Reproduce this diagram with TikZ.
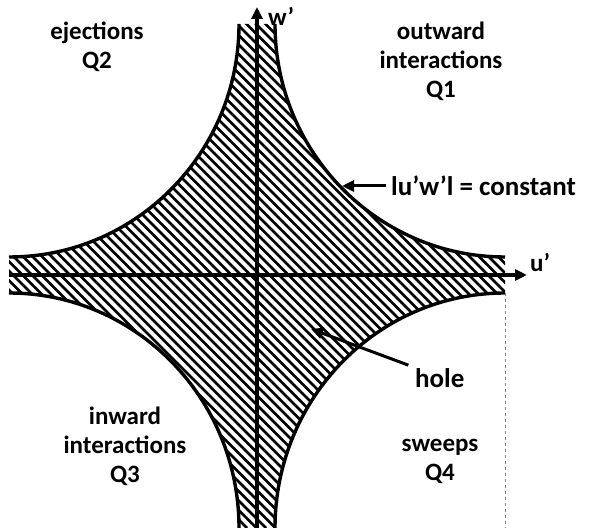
\documentclass[tikz,border=0pt]{standalone}
\usepackage{fontspec}
\setmainfont{Carlito}
\usetikzlibrary{arrows.meta,positioning}

\begin{document}
\begin{tikzpicture}[x=1pt,y=1pt,>={Triangle[length=12pt,width=11pt]},
    every node/.style={font=\fontsize{25}{29}\selectfont\bfseries,align=center,inner sep=1pt},
    callout/.style={font=\fontsize{27}{31}\selectfont\bfseries,anchor=west},
    axis/.style={line width=3.6pt,->},
    rim/.style={line width=3.4pt},
    hatch/.style={line width=2.6pt},
    pointer/.style={line width=3pt,->}]
  \useasboundingbox (0,0) rectangle (590,528);
  % hatched hole between the four curves
  \begin{scope}
    \clip (275,504) arc[start angle=180,end angle=270,x radius=230,y radius=233]
      -- (505,235) arc[start angle=90,end angle=180,x radius=230,y radius=235]
      -- (239,0) arc[start angle=0,end angle=90,x radius=230,y radius=235]
      -- (9,271) arc[start angle=-90,end angle=0,x radius=230,y radius=233]
      -- cycle;
    \foreach \k in {0,9.5,...,1130}
      \draw[hatch] (\k,0) -- ({\k-528},528);
  \end{scope}
  \draw[rim] (275,504) arc[start angle=180,end angle=270,x radius=230,y radius=233]
    (505,235) arc[start angle=90,end angle=180,x radius=230,y radius=235]
    (239,0) arc[start angle=0,end angle=90,x radius=230,y radius=235]
    (9,271) arc[start angle=-90,end angle=0,x radius=230,y radius=233];
  \draw[gray,dashed,line width=0.6pt] (505,235) -- (505,0);
  % axes
  \coordinate (uend) at (9,253);
  \coordinate (utip) at (527,253);
  \coordinate (wend) at (257,0);
  \coordinate (wtip) at (257,521);
  \draw[axis] (uend) -- (utip);
  \draw[axis] (wend) -- (wtip);
  \node[anchor=west] (ulabel) at (529,266) {u’};
  \node[anchor=west] (wlabel) at (267,512) {w’};
  % quadrants
  \node (qtwo) at (97,481) {ejections\\Q2};
  \node (qone) at (441,467) {outward\\interactions\\Q1};
  \node (qthree) at (125,82) {inward\\interactions\\Q3};
  \node (qfour) at (440,67) {sweeps\\Q4};
  % callouts
  \node[callout] (const) at (390,342) {lu’w’l = constant};
  \coordinate (rimpt) at (342,342);
  \draw[pointer,shorten <=4pt] (const.west) -- (rimpt);
  \node[callout] (hole) at (414,150) {hole};
  \coordinate (holept) at (311,199);
  \draw[pointer,shorten <=6pt] (hole.north west) -- (holept);
\end{tikzpicture}
\end{document}
